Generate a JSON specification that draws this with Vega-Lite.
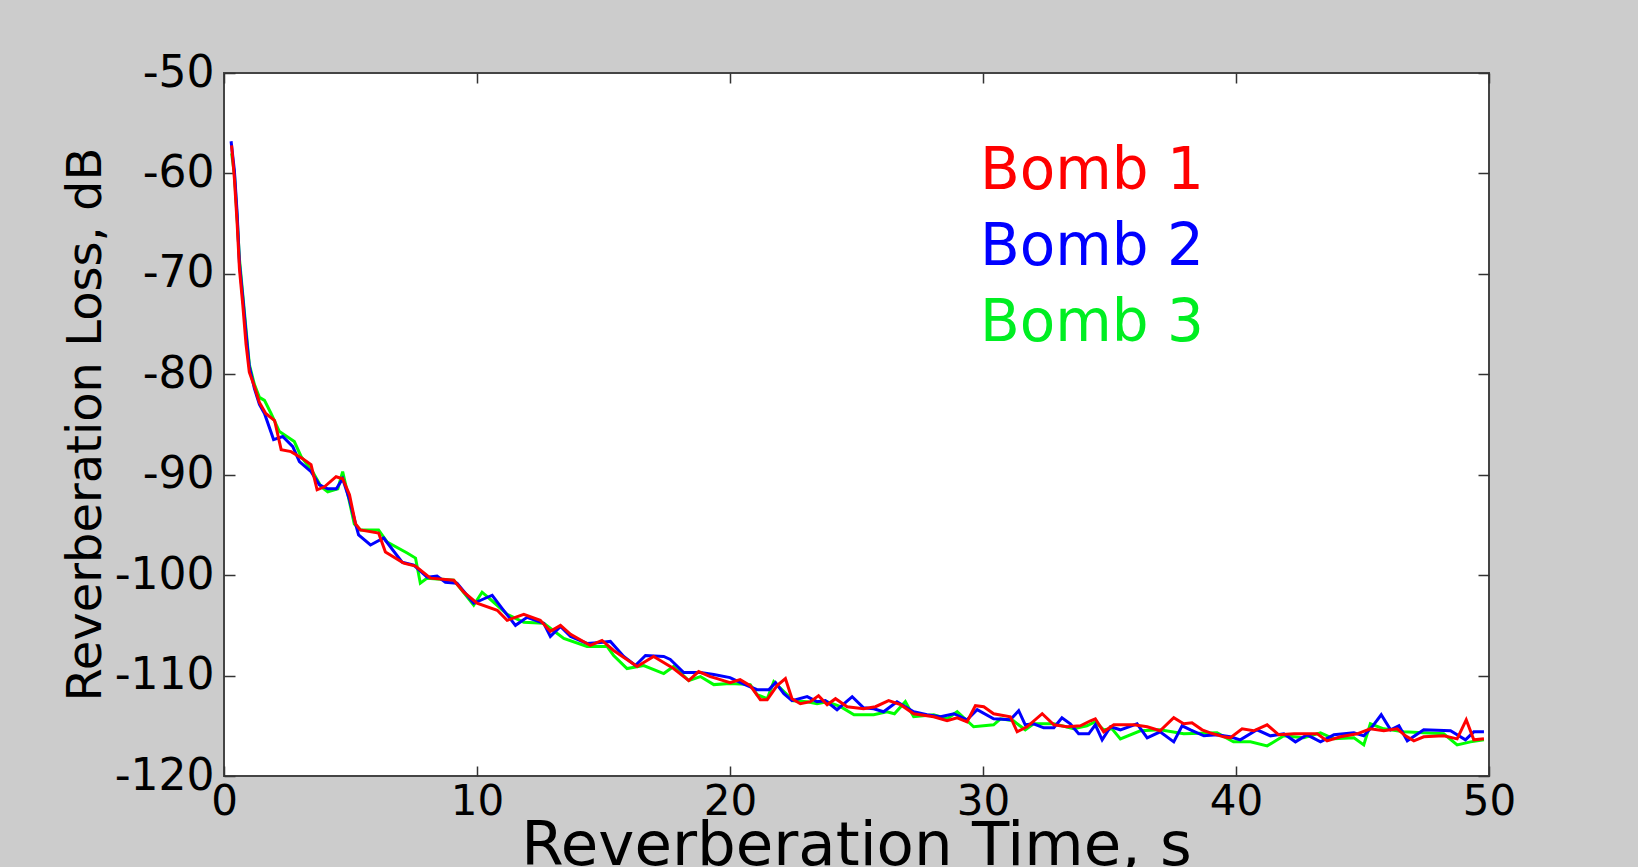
{
  "$schema": "https://vega.github.io/schema/vega-lite/v6.json",
  "width": 1265,
  "height": 703,
  "autosize": {"type": "none"},
  "padding": {"left": 224, "top": 73, "right": 149, "bottom": 91},
  "background": "#cccccc",
  "config": {
    "view": {"fill": "#ffffff", "stroke": "#444444", "strokeWidth": 2},
    "axis": {
      "labelFont": "DejaVu Sans",
      "titleFont": "DejaVu Sans",
      "labelColor": "#000000",
      "titleColor": "#000000",
      "titleFontWeight": "normal",
      "tickColor": "#333333",
      "tickWidth": 1.5,
      "domain": false,
      "grid": false
    }
  },
  "data": {"values": [
    {"b":"Bomb 3","t":0.3,"v":-58.0},{"b":"Bomb 3","t":0.41,"v":-60.0},{"b":"Bomb 3","t":0.52,"v":-64.5},{"b":"Bomb 3","t":0.61,"v":-68.5},{"b":"Bomb 3","t":0.74,"v":-72.0},{"b":"Bomb 3","t":0.87,"v":-75.5},{"b":"Bomb 3","t":1.0,"v":-79.0},{"b":"Bomb 3","t":1.2,"v":-81.0},{"b":"Bomb 3","t":1.4,"v":-82.3},{"b":"Bomb 3","t":1.6,"v":-82.6},{"b":"Bomb 3","t":1.86,"v":-83.9},{"b":"Bomb 3","t":2.19,"v":-85.7},{"b":"Bomb 3","t":2.78,"v":-86.7},{"b":"Bomb 3","t":3.05,"v":-88.2},{"b":"Bomb 3","t":3.5,"v":-89.7},{"b":"Bomb 3","t":3.84,"v":-91.2},{"b":"Bomb 3","t":4.1,"v":-91.7},{"b":"Bomb 3","t":4.5,"v":-91.4},{"b":"Bomb 3","t":4.69,"v":-89.7},{"b":"Bomb 3","t":4.89,"v":-91.9},{"b":"Bomb 3","t":5.15,"v":-94.9},{"b":"Bomb 3","t":5.39,"v":-95.5},{"b":"Bomb 3","t":6.11,"v":-95.5},{"b":"Bomb 3","t":6.45,"v":-96.7},{"b":"Bomb 3","t":7.24,"v":-97.8},{"b":"Bomb 3","t":7.57,"v":-98.3},{"b":"Bomb 3","t":7.76,"v":-100.8},{"b":"Bomb 3","t":8.03,"v":-100.3},{"b":"Bomb 3","t":9.08,"v":-100.5},{"b":"Bomb 3","t":9.87,"v":-103.0},{"b":"Bomb 3","t":10.2,"v":-101.7},{"b":"Bomb 3","t":10.66,"v":-102.7},{"b":"Bomb 3","t":11.19,"v":-103.9},{"b":"Bomb 3","t":11.85,"v":-104.7},{"b":"Bomb 3","t":12.64,"v":-104.8},{"b":"Bomb 3","t":13.43,"v":-106.3},{"b":"Bomb 3","t":14.35,"v":-107.1},{"b":"Bomb 3","t":15.14,"v":-107.1},{"b":"Bomb 3","t":15.4,"v":-108.0},{"b":"Bomb 3","t":15.93,"v":-109.3},{"b":"Bomb 3","t":16.59,"v":-109.0},{"b":"Bomb 3","t":17.38,"v":-109.8},{"b":"Bomb 3","t":17.77,"v":-109.1},{"b":"Bomb 3","t":18.37,"v":-110.5},{"b":"Bomb 3","t":18.83,"v":-110.1},{"b":"Bomb 3","t":19.36,"v":-110.9},{"b":"Bomb 3","t":20.0,"v":-110.8},{"b":"Bomb 3","t":20.8,"v":-110.9},{"b":"Bomb 3","t":21.07,"v":-111.9},{"b":"Bomb 3","t":21.47,"v":-112.3},{"b":"Bomb 3","t":21.73,"v":-110.6},{"b":"Bomb 3","t":22.13,"v":-111.6},{"b":"Bomb 3","t":22.5,"v":-112.5},{"b":"Bomb 3","t":23.05,"v":-112.6},{"b":"Bomb 3","t":23.44,"v":-112.8},{"b":"Bomb 3","t":23.84,"v":-112.6},{"b":"Bomb 3","t":24.37,"v":-113.1},{"b":"Bomb 3","t":24.9,"v":-113.9},{"b":"Bomb 3","t":25.68,"v":-113.9},{"b":"Bomb 3","t":26.2,"v":-113.6},{"b":"Bomb 3","t":26.5,"v":-113.8},{"b":"Bomb 3","t":26.93,"v":-112.6},{"b":"Bomb 3","t":27.26,"v":-114.1},{"b":"Bomb 3","t":28.05,"v":-113.9},{"b":"Bomb 3","t":28.58,"v":-114.3},{"b":"Bomb 3","t":28.98,"v":-113.6},{"b":"Bomb 3","t":29.63,"v":-115.1},{"b":"Bomb 3","t":30.42,"v":-114.9},{"b":"Bomb 3","t":30.69,"v":-114.3},{"b":"Bomb 3","t":31.2,"v":-114.5},{"b":"Bomb 3","t":31.67,"v":-115.4},{"b":"Bomb 3","t":32.0,"v":-114.8},{"b":"Bomb 3","t":32.8,"v":-114.8},{"b":"Bomb 3","t":33.58,"v":-115.3},{"b":"Bomb 3","t":34.11,"v":-115.0},{"b":"Bomb 3","t":34.44,"v":-114.6},{"b":"Bomb 3","t":34.77,"v":-115.4},{"b":"Bomb 3","t":35.1,"v":-115.3},{"b":"Bomb 3","t":35.43,"v":-116.3},{"b":"Bomb 3","t":36.22,"v":-115.5},{"b":"Bomb 3","t":37.0,"v":-115.4},{"b":"Bomb 3","t":37.93,"v":-115.8},{"b":"Bomb 3","t":39.25,"v":-115.7},{"b":"Bomb 3","t":39.9,"v":-116.6},{"b":"Bomb 3","t":40.57,"v":-116.6},{"b":"Bomb 3","t":41.23,"v":-117.0},{"b":"Bomb 3","t":41.89,"v":-116.0},{"b":"Bomb 3","t":42.68,"v":-116.2},{"b":"Bomb 3","t":43.34,"v":-115.7},{"b":"Bomb 3","t":43.87,"v":-116.3},{"b":"Bomb 3","t":44.66,"v":-116.2},{"b":"Bomb 3","t":45.05,"v":-116.9},{"b":"Bomb 3","t":45.31,"v":-114.8},{"b":"Bomb 3","t":45.84,"v":-115.3},{"b":"Bomb 3","t":46.63,"v":-115.6},{"b":"Bomb 3","t":47.42,"v":-115.7},{"b":"Bomb 3","t":48.21,"v":-115.8},{"b":"Bomb 3","t":48.74,"v":-116.9},{"b":"Bomb 3","t":49.27,"v":-116.6},{"b":"Bomb 3","t":49.8,"v":-116.4},
    {"b":"Bomb 2","t":0.28,"v":-56.8},{"b":"Bomb 2","t":0.41,"v":-59.7},{"b":"Bomb 2","t":0.52,"v":-64.0},{"b":"Bomb 2","t":0.61,"v":-68.9},{"b":"Bomb 2","t":0.74,"v":-72.3},{"b":"Bomb 2","t":0.87,"v":-75.9},{"b":"Bomb 2","t":1.0,"v":-79.2},{"b":"Bomb 2","t":1.2,"v":-81.4},{"b":"Bomb 2","t":1.4,"v":-83.0},{"b":"Bomb 2","t":1.6,"v":-83.9},{"b":"Bomb 2","t":1.96,"v":-86.5},{"b":"Bomb 2","t":2.32,"v":-86.2},{"b":"Bomb 2","t":2.72,"v":-87.2},{"b":"Bomb 2","t":2.98,"v":-88.7},{"b":"Bomb 2","t":3.44,"v":-89.7},{"b":"Bomb 2","t":3.77,"v":-91.0},{"b":"Bomb 2","t":4.1,"v":-91.4},{"b":"Bomb 2","t":4.44,"v":-91.4},{"b":"Bomb 2","t":4.69,"v":-90.4},{"b":"Bomb 2","t":4.96,"v":-92.5},{"b":"Bomb 2","t":5.2,"v":-94.9},{"b":"Bomb 2","t":5.32,"v":-96.0},{"b":"Bomb 2","t":5.79,"v":-97.0},{"b":"Bomb 2","t":6.31,"v":-96.3},{"b":"Bomb 2","t":7.04,"v":-98.7},{"b":"Bomb 2","t":7.5,"v":-99.0},{"b":"Bomb 2","t":8.03,"v":-100.2},{"b":"Bomb 2","t":8.42,"v":-100.1},{"b":"Bomb 2","t":8.75,"v":-100.7},{"b":"Bomb 2","t":9.21,"v":-100.8},{"b":"Bomb 2","t":9.87,"v":-102.8},{"b":"Bomb 2","t":10.6,"v":-102.0},{"b":"Bomb 2","t":10.99,"v":-103.3},{"b":"Bomb 2","t":11.52,"v":-105.0},{"b":"Bomb 2","t":11.98,"v":-104.2},{"b":"Bomb 2","t":12.64,"v":-104.8},{"b":"Bomb 2","t":12.9,"v":-106.1},{"b":"Bomb 2","t":13.3,"v":-105.1},{"b":"Bomb 2","t":13.7,"v":-106.1},{"b":"Bomb 2","t":14.35,"v":-106.8},{"b":"Bomb 2","t":14.88,"v":-106.7},{"b":"Bomb 2","t":15.27,"v":-106.6},{"b":"Bomb 2","t":15.8,"v":-108.1},{"b":"Bomb 2","t":16.26,"v":-109.0},{"b":"Bomb 2","t":16.66,"v":-108.0},{"b":"Bomb 2","t":17.38,"v":-108.1},{"b":"Bomb 2","t":17.64,"v":-108.4},{"b":"Bomb 2","t":18.17,"v":-109.7},{"b":"Bomb 2","t":18.83,"v":-109.7},{"b":"Bomb 2","t":19.36,"v":-109.9},{"b":"Bomb 2","t":20.0,"v":-110.2},{"b":"Bomb 2","t":20.5,"v":-110.8},{"b":"Bomb 2","t":21.07,"v":-111.4},{"b":"Bomb 2","t":21.54,"v":-111.4},{"b":"Bomb 2","t":21.8,"v":-110.7},{"b":"Bomb 2","t":22.13,"v":-111.8},{"b":"Bomb 2","t":22.45,"v":-112.5},{"b":"Bomb 2","t":23.05,"v":-112.1},{"b":"Bomb 2","t":23.44,"v":-112.6},{"b":"Bomb 2","t":23.77,"v":-112.5},{"b":"Bomb 2","t":24.23,"v":-113.4},{"b":"Bomb 2","t":24.83,"v":-112.1},{"b":"Bomb 2","t":25.28,"v":-113.2},{"b":"Bomb 2","t":25.68,"v":-113.3},{"b":"Bomb 2","t":26.07,"v":-113.6},{"b":"Bomb 2","t":26.6,"v":-112.6},{"b":"Bomb 2","t":27.26,"v":-113.6},{"b":"Bomb 2","t":27.79,"v":-113.9},{"b":"Bomb 2","t":28.32,"v":-114.1},{"b":"Bomb 2","t":28.85,"v":-113.8},{"b":"Bomb 2","t":29.37,"v":-114.4},{"b":"Bomb 2","t":29.77,"v":-113.4},{"b":"Bomb 2","t":30.42,"v":-114.3},{"b":"Bomb 2","t":31.08,"v":-114.4},{"b":"Bomb 2","t":31.41,"v":-113.5},{"b":"Bomb 2","t":31.67,"v":-114.9},{"b":"Bomb 2","t":32.0,"v":-114.8},{"b":"Bomb 2","t":32.4,"v":-115.2},{"b":"Bomb 2","t":32.8,"v":-115.2},{"b":"Bomb 2","t":33.12,"v":-114.2},{"b":"Bomb 2","t":33.45,"v":-114.8},{"b":"Bomb 2","t":33.78,"v":-115.8},{"b":"Bomb 2","t":34.18,"v":-115.8},{"b":"Bomb 2","t":34.44,"v":-114.9},{"b":"Bomb 2","t":34.71,"v":-116.4},{"b":"Bomb 2","t":35.04,"v":-115.1},{"b":"Bomb 2","t":35.43,"v":-115.4},{"b":"Bomb 2","t":36.09,"v":-114.8},{"b":"Bomb 2","t":36.49,"v":-116.2},{"b":"Bomb 2","t":37.0,"v":-115.6},{"b":"Bomb 2","t":37.54,"v":-116.6},{"b":"Bomb 2","t":37.87,"v":-115.0},{"b":"Bomb 2","t":38.2,"v":-115.4},{"b":"Bomb 2","t":38.73,"v":-116.0},{"b":"Bomb 2","t":39.25,"v":-115.9},{"b":"Bomb 2","t":39.77,"v":-116.1},{"b":"Bomb 2","t":40.17,"v":-116.4},{"b":"Bomb 2","t":40.83,"v":-115.4},{"b":"Bomb 2","t":41.36,"v":-116.0},{"b":"Bomb 2","t":41.89,"v":-115.8},{"b":"Bomb 2","t":42.35,"v":-116.6},{"b":"Bomb 2","t":42.81,"v":-115.9},{"b":"Bomb 2","t":43.34,"v":-116.6},{"b":"Bomb 2","t":43.87,"v":-115.9},{"b":"Bomb 2","t":44.66,"v":-115.7},{"b":"Bomb 2","t":45.05,"v":-116.0},{"b":"Bomb 2","t":45.38,"v":-115.1},{"b":"Bomb 2","t":45.74,"v":-113.9},{"b":"Bomb 2","t":46.11,"v":-115.4},{"b":"Bomb 2","t":46.44,"v":-115.0},{"b":"Bomb 2","t":46.77,"v":-116.5},{"b":"Bomb 2","t":47.42,"v":-115.4},{"b":"Bomb 2","t":48.48,"v":-115.5},{"b":"Bomb 2","t":49.07,"v":-116.4},{"b":"Bomb 2","t":49.4,"v":-115.6},{"b":"Bomb 2","t":49.8,"v":-115.6},
    {"b":"Bomb 1","t":0.3,"v":-57.2},{"b":"Bomb 1","t":0.41,"v":-60.5},{"b":"Bomb 1","t":0.52,"v":-65.0},{"b":"Bomb 1","t":0.61,"v":-69.5},{"b":"Bomb 1","t":0.74,"v":-73.0},{"b":"Bomb 1","t":0.87,"v":-77.0},{"b":"Bomb 1","t":1.0,"v":-79.8},{"b":"Bomb 1","t":1.2,"v":-81.2},{"b":"Bomb 1","t":1.4,"v":-82.8},{"b":"Bomb 1","t":1.65,"v":-83.9},{"b":"Bomb 1","t":2.0,"v":-84.6},{"b":"Bomb 1","t":2.26,"v":-87.5},{"b":"Bomb 1","t":2.65,"v":-87.7},{"b":"Bomb 1","t":3.11,"v":-88.4},{"b":"Bomb 1","t":3.44,"v":-89.0},{"b":"Bomb 1","t":3.68,"v":-91.5},{"b":"Bomb 1","t":3.97,"v":-91.2},{"b":"Bomb 1","t":4.43,"v":-90.2},{"b":"Bomb 1","t":4.69,"v":-90.4},{"b":"Bomb 1","t":4.96,"v":-92.0},{"b":"Bomb 1","t":5.2,"v":-94.9},{"b":"Bomb 1","t":5.39,"v":-95.5},{"b":"Bomb 1","t":6.11,"v":-95.8},{"b":"Bomb 1","t":6.38,"v":-97.7},{"b":"Bomb 1","t":7.1,"v":-98.8},{"b":"Bomb 1","t":7.57,"v":-99.1},{"b":"Bomb 1","t":8.16,"v":-100.3},{"b":"Bomb 1","t":9.08,"v":-100.5},{"b":"Bomb 1","t":9.48,"v":-101.7},{"b":"Bomb 1","t":10.0,"v":-102.8},{"b":"Bomb 1","t":10.8,"v":-103.5},{"b":"Bomb 1","t":11.19,"v":-104.5},{"b":"Bomb 1","t":11.85,"v":-103.9},{"b":"Bomb 1","t":12.5,"v":-104.5},{"b":"Bomb 1","t":12.9,"v":-105.6},{"b":"Bomb 1","t":13.3,"v":-105.0},{"b":"Bomb 1","t":13.7,"v":-105.9},{"b":"Bomb 1","t":14.48,"v":-107.0},{"b":"Bomb 1","t":14.94,"v":-106.5},{"b":"Bomb 1","t":15.4,"v":-107.5},{"b":"Bomb 1","t":16.33,"v":-109.1},{"b":"Bomb 1","t":16.98,"v":-108.1},{"b":"Bomb 1","t":17.77,"v":-109.3},{"b":"Bomb 1","t":18.37,"v":-110.5},{"b":"Bomb 1","t":18.76,"v":-109.6},{"b":"Bomb 1","t":19.22,"v":-110.1},{"b":"Bomb 1","t":19.49,"v":-110.3},{"b":"Bomb 1","t":20.0,"v":-110.7},{"b":"Bomb 1","t":20.4,"v":-110.4},{"b":"Bomb 1","t":20.8,"v":-111.0},{"b":"Bomb 1","t":21.2,"v":-112.4},{"b":"Bomb 1","t":21.47,"v":-112.4},{"b":"Bomb 1","t":21.86,"v":-111.0},{"b":"Bomb 1","t":22.19,"v":-110.3},{"b":"Bomb 1","t":22.45,"v":-112.3},{"b":"Bomb 1","t":22.78,"v":-112.8},{"b":"Bomb 1","t":23.18,"v":-112.6},{"b":"Bomb 1","t":23.5,"v":-112.0},{"b":"Bomb 1","t":23.84,"v":-112.9},{"b":"Bomb 1","t":24.17,"v":-112.3},{"b":"Bomb 1","t":24.63,"v":-113.1},{"b":"Bomb 1","t":25.28,"v":-113.3},{"b":"Bomb 1","t":25.75,"v":-113.1},{"b":"Bomb 1","t":26.27,"v":-112.5},{"b":"Bomb 1","t":26.74,"v":-112.9},{"b":"Bomb 1","t":27.26,"v":-113.8},{"b":"Bomb 1","t":28.05,"v":-114.1},{"b":"Bomb 1","t":28.58,"v":-114.5},{"b":"Bomb 1","t":28.98,"v":-114.2},{"b":"Bomb 1","t":29.37,"v":-114.6},{"b":"Bomb 1","t":29.7,"v":-113.0},{"b":"Bomb 1","t":30.03,"v":-113.1},{"b":"Bomb 1","t":30.42,"v":-113.8},{"b":"Bomb 1","t":31.08,"v":-114.1},{"b":"Bomb 1","t":31.35,"v":-115.6},{"b":"Bomb 1","t":31.74,"v":-115.1},{"b":"Bomb 1","t":32.34,"v":-113.8},{"b":"Bomb 1","t":32.8,"v":-114.9},{"b":"Bomb 1","t":33.32,"v":-115.1},{"b":"Bomb 1","t":33.85,"v":-115.0},{"b":"Bomb 1","t":34.25,"v":-114.5},{"b":"Bomb 1","t":34.44,"v":-114.3},{"b":"Bomb 1","t":34.77,"v":-115.6},{"b":"Bomb 1","t":35.17,"v":-114.9},{"b":"Bomb 1","t":35.96,"v":-114.9},{"b":"Bomb 1","t":36.49,"v":-115.1},{"b":"Bomb 1","t":37.0,"v":-115.5},{"b":"Bomb 1","t":37.54,"v":-114.2},{"b":"Bomb 1","t":37.93,"v":-114.8},{"b":"Bomb 1","t":38.26,"v":-114.7},{"b":"Bomb 1","t":38.66,"v":-115.4},{"b":"Bomb 1","t":38.98,"v":-115.7},{"b":"Bomb 1","t":39.51,"v":-116.1},{"b":"Bomb 1","t":39.77,"v":-116.2},{"b":"Bomb 1","t":40.24,"v":-115.3},{"b":"Bomb 1","t":40.7,"v":-115.5},{"b":"Bomb 1","t":41.23,"v":-114.9},{"b":"Bomb 1","t":41.69,"v":-115.9},{"b":"Bomb 1","t":42.29,"v":-115.8},{"b":"Bomb 1","t":43.21,"v":-115.8},{"b":"Bomb 1","t":43.6,"v":-116.5},{"b":"Bomb 1","t":44.13,"v":-116.1},{"b":"Bomb 1","t":44.79,"v":-115.8},{"b":"Bomb 1","t":45.31,"v":-115.3},{"b":"Bomb 1","t":45.84,"v":-115.5},{"b":"Bomb 1","t":46.37,"v":-115.3},{"b":"Bomb 1","t":46.7,"v":-116.0},{"b":"Bomb 1","t":47.03,"v":-116.5},{"b":"Bomb 1","t":47.42,"v":-116.1},{"b":"Bomb 1","t":48.21,"v":-116.0},{"b":"Bomb 1","t":48.74,"v":-116.3},{"b":"Bomb 1","t":49.1,"v":-114.4},{"b":"Bomb 1","t":49.4,"v":-116.4},{"b":"Bomb 1","t":49.8,"v":-116.3}
  ]},
  "layer": [
    {
      "mark": {"type": "line", "strokeWidth": 3, "interpolate": "linear"},
      "encoding": {
        "x": {"field": "t", "type": "quantitative",
              "scale": {"domain": [0, 50], "nice": false, "zero": false},
              "axis": {"orient": "bottom", "values": [0, 10, 20, 30, 40, 50], "tickSize": -10,
                       "labelPadding": 15, "labelFontSize": 42, "labelFlush": false,
                       "labelExpr": "toString(datum.value)",
                       "title": "Reverberation Time, s", "titleFontSize": 61,
                       "titleY": 88, "titleBaseline": "alphabetic", "titleX": 632}},
        "y": {"field": "v", "type": "quantitative",
              "scale": {"domain": [-120, -50], "nice": false, "zero": false},
              "axis": {"orient": "left", "values": [-120, -110, -100, -90, -80, -70, -60, -50],
                       "offset": -11, "tickSize": 11,
                       "labelPadding": 10, "labelFontSize": 44, "labelFlush": false,
                       "labelExpr": "toString(datum.value)",
                       "title": "Reverberation Loss, dB", "titleFontSize": 48,
                       "titleX": -135, "titleY": 351, "titleAngle": -90, "titleBaseline": "alphabetic", "titleAlign": "center"}},
        "color": {"field": "b", "type": "nominal",
                  "scale": {"domain": ["Bomb 1", "Bomb 2", "Bomb 3"], "range": ["#ff0000", "#0000ff", "#00ff00"]},
                  "legend": {"orient": "none", "legendX": 698, "legendY": 70, "title": null,
                             "symbolSize": 0, "symbolStrokeWidth": 0, "symbolOpacity": 0, "labelOffset": 0,
                             "labelFont": "DejaVu Sans", "labelFontSize": 58, "rowPadding": 18, "padding": 0,
                             "labelLimit": 0,
                             "encoding": {"labels": {"fill": {"condition": [
                               {"test": "datum.value === 'Bomb 1'", "value": "#ff0000"},
                               {"test": "datum.value === 'Bomb 2'", "value": "#0000ff"}
                             ], "value": "#00ee22"}}}}}
      }
    },
    {
      "mark": {"type": "point", "opacity": 0},
      "encoding": {
        "x": {"field": "t", "type": "quantitative",
              "axis": {"orient": "top", "values": [0, 10, 20, 30, 40, 50], "tickSize": -10, "labels": false, "title": null}},
        "y": {"field": "v", "type": "quantitative",
              "axis": {"orient": "right", "values": [-120, -110, -100, -90, -80, -70, -60, -50], "tickSize": -11, "labels": false, "title": null}}
      }
    }
  ],
  "resolve": {"axis": {"x": "independent", "y": "independent"}}
}
